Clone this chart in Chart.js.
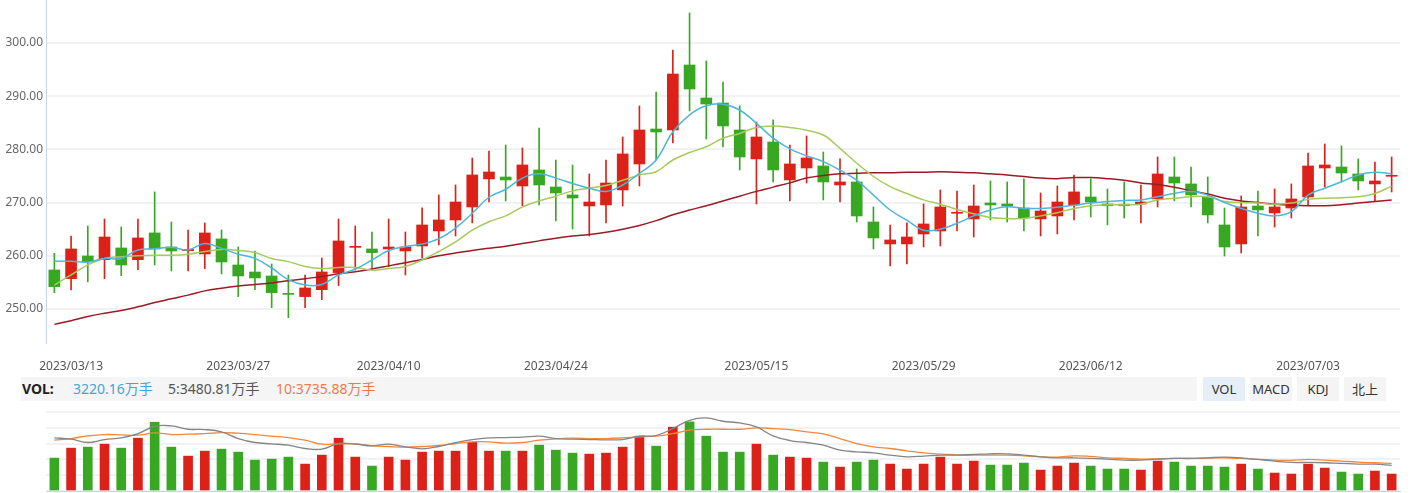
<!DOCTYPE html>
<html>
<head>
<meta charset="utf-8">
<script src="https://cdn.jsdelivr.net/npm/chart.js@4.4.1/dist/chart.umd.min.js"></script>
<style>
  html, body { margin:0; padding:0; background:#fff; width:1414px; height:493px; overflow:hidden; font-family:"Noto Sans","Noto Sans CJK SC",sans-serif; }
  #pwrap { position:absolute; left:0; top:0; width:1414px; height:375px; }
  #vwrap { position:absolute; left:0; top:404px; width:1414px; height:89px; }
  #band { position:absolute; left:21px; top:377px; width:1176px; height:24px; background:#f5f5f5; }
  .lg { position:absolute; top:377px; height:24px; line-height:24px; font-size:14px; white-space:nowrap; }
  .btn { position:absolute; top:377px; width:42px; height:24px; line-height:24px; text-align:center; font-size:13px; color:#333; background:#f4f4f4; }
</style>
</head>
<body>
<div id="pwrap"><canvas id="price" width="1414" height="375"></canvas></div>
<div id="band"></div>
<div class="lg" style="left:22px;color:#222;font-weight:bold;">VOL:</div>
<div class="lg" id="lgv" style="left:73px;color:#3ea6d6;"></div>
<div class="lg" id="lg5" style="left:168px;color:#555;"></div>
<div class="lg" id="lg10" style="left:276px;color:#ef7a4a;"></div>
<div class="btn" style="left:1203px;background:#e6eef8;">VOL</div>
<div class="btn" style="left:1250px;">MACD</div>
<div class="btn" style="left:1297px;">KDJ</div>
<div class="btn" style="left:1344px;">北上</div>
<div id="vwrap"><canvas id="vol" width="1414" height="89"></canvas></div>
<script>
// ---------- data ----------
const dates = [
 "2023/03/10","2023/03/13","2023/03/14","2023/03/15","2023/03/16","2023/03/17","2023/03/20","2023/03/21","2023/03/22","2023/03/23",
 "2023/03/24","2023/03/27","2023/03/28","2023/03/29","2023/03/30","2023/03/31","2023/04/03","2023/04/04","2023/04/06","2023/04/07",
 "2023/04/10","2023/04/11","2023/04/12","2023/04/13","2023/04/14","2023/04/17","2023/04/18","2023/04/19","2023/04/20","2023/04/21",
 "2023/04/24","2023/04/25","2023/04/26","2023/04/27","2023/04/28","2023/05/04","2023/05/05","2023/05/08","2023/05/09","2023/05/10",
 "2023/05/11","2023/05/12","2023/05/15","2023/05/16","2023/05/17","2023/05/18","2023/05/19","2023/05/22","2023/05/23","2023/05/24",
 "2023/05/25","2023/05/26","2023/05/29","2023/05/30","2023/05/31","2023/06/01","2023/06/02","2023/06/05","2023/06/06","2023/06/07",
 "2023/06/08","2023/06/09","2023/06/12","2023/06/13","2023/06/14","2023/06/15","2023/06/16","2023/06/19","2023/06/20","2023/06/21",
 "2023/06/26","2023/06/27","2023/06/28","2023/06/29","2023/06/30","2023/07/03","2023/07/04","2023/07/05","2023/07/06","2023/07/07",
 "2023/07/10"];
const tickDates = ["2023/03/13","2023/03/27","2023/04/10","2023/04/24","2023/05/15","2023/05/29","2023/06/12","2023/07/03"];
const priceTicks = [250, 260, 270, 280, 290, 300];

const opens = [257.33,255.70,259.96,259.27,261.47,259.27,264.29,261.65,260.95,260.34,
 263.16,258.27,256.95,256.20,252.82,252.32,253.63,256.83,261.58,261.28,
 261.28,260.90,261.84,264.66,266.73,269.17,274.44,274.81,273.12,276.13,
 272.93,271.43,269.36,269.55,272.37,277.26,283.83,283.65,295.86,289.66,
 288.72,283.65,278.20,281.39,274.25,276.50,276.88,273.31,273.87,266.35,
 262.22,262.22,264.10,264.66,267.98,266.92,269.92,269.74,268.98,266.92,
 267.48,269.55,271.05,269.74,269.70,269.74,270.68,274.81,273.50,271.05,
 265.79,262.22,269.36,268.05,268.98,271.05,276.50,276.69,275.38,273.50,
 274.94];
const closes = [254.20,261.28,258.90,263.53,258.27,263.35,261.28,260.90,261.20,264.29,
 258.83,256.20,255.83,253.07,252.74,253.95,256.95,262.78,261.70,260.59,
 261.65,261.65,265.79,266.73,270.11,275.19,275.75,274.25,277.07,273.31,
 271.80,270.86,270.11,273.68,279.14,283.65,283.27,294.17,291.35,288.53,
 284.40,278.57,282.33,276.13,277.26,278.38,273.87,273.87,267.48,263.35,
 262.97,263.53,265.98,269.17,268.10,269.36,269.55,269.36,267.11,268.42,
 270.11,272.00,270.11,269.40,269.40,270.11,275.38,273.68,271.43,267.67,
 261.65,269.17,268.61,269.17,270.68,276.88,277.07,275.56,274.06,274.06,
 275.06];
const highs = [260.46,263.72,265.60,266.90,265.41,266.90,272.00,266.35,264.85,266.17,
 264.85,261.65,260.90,258.46,256.39,256.39,259.59,266.90,265.60,264.47,
 266.90,264.47,268.99,271.43,273.31,278.38,279.70,280.83,280.26,284.02,
 278.00,277.07,275.38,278.00,282.33,288.16,290.79,298.68,305.64,296.62,
 292.67,288.16,285.15,285.53,280.83,282.52,279.51,278.20,276.32,269.17,
 265.79,266.17,269.74,272.37,272.18,273.31,274.06,273.87,274.44,271.80,
 273.12,275.19,274.44,272.56,273.87,273.31,278.57,278.57,276.69,274.81,
 268.98,271.24,272.18,272.56,273.50,279.32,281.02,280.64,278.20,277.63,
 278.57];
const lows = [253.07,253.57,255.10,255.70,256.27,257.40,258.27,257.14,257.14,257.58,
 256.58,252.32,253.63,250.25,248.37,250.25,251.75,254.39,257.33,257.33,
 257.96,256.39,259.59,262.03,263.72,266.17,270.11,270.30,269.36,269.55,
 266.54,265.04,263.72,266.17,269.36,273.12,278.00,281.20,287.22,281.95,
 280.45,276.13,269.74,273.87,270.30,273.68,270.49,270.11,266.35,261.28,
 258.08,258.46,261.65,261.84,264.66,263.53,266.73,266.35,264.66,263.72,
 264.10,266.73,267.29,265.79,267.10,266.17,269.17,270.30,269.17,266.17,
 259.96,260.53,263.72,265.41,267.10,269.55,272.93,273.87,272.37,270.30,
 271.99];
const ma5 = [259.0,258.95,258.8,259.5,259.5,261.1,261.3,261.6,261.1,262.3,
 261.4,260.3,259.5,257.7,255.5,254.5,254.6,256.4,257.5,259.2,
 261.0,261.7,262.2,263.2,265.2,268.0,271.0,272.5,274.6,275.4,
 274.6,273.6,272.7,272.1,273.3,275.5,278.0,283.3,286.5,288.2,
 288.5,287.4,284.9,282.1,280.1,278.8,277.7,276.1,274.2,271.4,
 268.6,266.7,264.8,265.0,266.1,267.5,268.6,269.2,268.9,268.9,
 269.1,269.5,269.9,270.2,270.4,270.5,271.1,271.7,272.1,271.4,
 270.0,268.9,268.0,267.5,268.3,271.4,272.7,273.9,275.2,275.7,
 275.4];
const ma10 = [254.5,256.4,258.3,259.5,259.8,260.0,260.1,260.1,260.3,260.8,
 261.2,261.0,260.6,259.5,258.9,258.0,257.6,257.8,257.8,257.3,
 257.6,258.0,259.2,260.8,262.6,264.8,266.4,267.5,269.2,270.3,
 271.2,272.2,272.7,273.2,274.2,275.2,275.8,278.0,279.4,280.5,
 282.1,283.0,284.1,284.4,284.1,283.6,282.7,280.2,277.4,274.9,
 273.0,271.7,270.5,269.7,268.7,267.9,267.2,267.0,267.0,267.5,
 268.1,268.9,269.4,269.6,269.6,269.7,270.5,270.8,271.1,271.1,
 270.2,270.0,269.9,269.7,269.9,270.6,270.8,270.9,271.1,271.7,
 273.1];
const maLong = [247.1,247.8,248.6,249.2,249.7,250.4,251.2,251.9,252.6,253.4,
 253.9,254.3,254.6,254.9,255.3,255.7,256.1,256.6,257.0,257.5,
 258.1,258.7,259.3,260.0,260.5,261.0,261.4,261.8,262.3,262.8,
 263.3,263.7,264.0,264.4,265.0,265.7,266.6,267.7,268.6,269.4,
 270.3,271.2,272.1,272.9,273.7,274.6,275.1,275.4,275.5,275.6,
 275.6,275.7,275.7,275.8,275.7,275.6,275.4,275.2,274.9,274.6,
 274.5,274.7,274.7,274.5,274.2,273.7,273.4,272.9,272.2,271.6,
 270.8,270.3,270.0,269.7,269.5,269.4,269.4,269.6,269.9,270.2,
 270.5];
// volume in 万手
const volumes = [6247,8140,8329,8897,8140,10033,13062,8329,6626,7572,
 7951,7383,5868,6058,6436,5111,6815,10033,6436,4733,
 6436,5868,7383,7572,7572,9276,7572,7572,7572,8708,
 7761,7193,7004,7193,8329,10412,8519,12115,13125,10412,
 7383,7383,8897,6815,6436,6247,5490,4543,5490,5868,
 5111,4165,5111,6436,5111,5679,4922,4922,5300,3975,
 4733,5300,4733,4165,4165,3975,5679,5490,4733,4733,
 4543,5111,4165,3407,3218,5111,4354,3597,3218,3786,
 3220.16];
const volMa5 = [7200,7020,6570,6975,7200,7785,8775,8820,8370,8325,
 8010,7110,6570,6390,6210,5760,5670,6435,6345,6120,
 6345,5985,5715,6030,6570,6975,7200,7245,7290,7425,
 7110,7020,6975,6930,6975,7425,7515,8460,9585,9900,
 9450,9225,8685,7470,6840,6570,6210,5535,5310,5175,
 4860,4635,4725,4860,4860,4950,5040,5040,4860,4635,
 4500,4500,4410,4320,4185,4185,4320,4410,4410,4500,
 4590,4500,4275,4050,3870,3870,3825,3735,3645,3645,
 3480.81];
const volMa10 = [6885,7110,7470,7650,7605,7560,7875,7650,7695,7785,
 7920,7830,7650,7425,7245,6885,6345,6390,6390,6120,
 6030,5940,6030,6165,6435,6660,6660,6480,6570,6885,
 7065,7155,7110,7110,7200,7335,7425,7785,8235,8370,
 8370,8370,8550,8460,8325,8010,7740,7110,6435,5985,
 5760,5445,5175,4995,4905,4860,4860,4860,4770,4635,
 4590,4770,4680,4500,4410,4320,4365,4410,4410,4455,
 4500,4410,4275,4185,4140,4275,4185,4050,3915,3825,
 3735.88];

// ---------- helpers ----------
const UP = '#dc2218', DOWN = '#38a823';
const FONT = '"Noto Sans","Noto Sans CJK SC",sans-serif';
const candleColors = opens.map((o, i) => closes[i] >= o ? UP : DOWN);
const n = dates.length;

document.getElementById('lgv').textContent = volumes[n-1].toFixed(2) + '万手';
document.getElementById('lg5').textContent = '5:' + volMa5[n-1].toFixed(2) + '万手';
document.getElementById('lg10').textContent = '10:' + volMa10[n-1].toFixed(2) + '万手';

const common = { responsive:false, animation:false, events:[],
  plugins:{ legend:{display:false}, tooltip:{enabled:false} } };

new Chart(document.getElementById('price'), {
  type: 'bar',
  data: {
    labels: dates,
    datasets: [
      { type:'line', data: ma5, borderColor:'#4db6da', borderWidth:1.5, pointRadius:0, tension:0.4, order:0 },
      { type:'line', data: ma10, borderColor:'#a6ca5e', borderWidth:1.5, pointRadius:0, tension:0.4, order:0 },
      { type:'line', data: maLong, borderColor:'#9c1a24', borderWidth:1.5, pointRadius:0, tension:0.4, order:0 },
      { data: lows.map((l, i) => [l, highs[i]]), backgroundColor: candleColors, barThickness:1, grouped:false, order:2 },
      { data: opens.map((o, i) => [o, closes[i]]), backgroundColor: candleColors, barThickness:11, minBarLength:1, grouped:false, order:1 }
    ]
  },
  options: Object.assign({}, common, {
    layout:{ padding:{ left:0, right:14, top:0, bottom:0 } },
    scales:{
      x:{
        grid:{ display:false, drawTicks:false }, border:{ display:false },
        ticks:{ autoSkip:false, maxRotation:0, minRotation:0, padding:16, color:'#555',
          font:{ size:12, family:FONT },
          callback:(v, i) => tickDates.includes(dates[i]) ? dates[i] : '' },
        afterFit:(s) => { s.height = 32; s.paddingLeft = 0; s.paddingRight = 0; }
      },
      y:{
        min:243.6, max:308.08,
        afterBuildTicks:(s) => { s.ticks = priceTicks.map(v => ({ value:v })); },
        ticks:{ padding:3, color:'#666', font:{ size:12, family:FONT }, callback:(v) => Number(v).toFixed(2) },
        grid:{ color:'#f1f2f5', lineWidth:2, drawTicks:false },
        border:{ display:true, color:'#c6d6ee', width:1 },
        afterFit:(s) => { s.width = 46; s.paddingTop = 0; s.paddingBottom = 0; }
      }
    }
  })
});

new Chart(document.getElementById('vol'), {
  type: 'bar',
  data: {
    labels: dates,
    datasets: [
      { type:'line', data: volMa5, yAxisID:'y2', borderColor:'#858585', borderWidth:1.3, pointRadius:0, tension:0.4, order:0 },
      { type:'line', data: volMa10, yAxisID:'y2', borderColor:'#f0883c', borderWidth:1.3, pointRadius:0, tension:0.4, order:0 },
      { data: volumes, backgroundColor: candleColors, barThickness:9, order:1 }
    ]
  },
  options: Object.assign({}, common, {
    layout:{ padding:{ left:0, right:14, top:8, bottom:0 } },
    scales:{
      x:{
        grid:{ display:false, drawTicks:false }, ticks:{ display:false },
        border:{ display:true, color:'#c6d6ee', width:1 },
        afterFit:(s) => { s.height = 2; s.paddingLeft = 0; s.paddingRight = 0; }
      },
      y:{
        min:0, max:15000,
        ticks:{ display:false, stepSize:3000 },
        grid:{ color:'#f1f2f5', lineWidth:2, drawTicks:false },
        border:{ display:false },
        afterFit:(s) => { s.width = 46; s.paddingTop = 0; s.paddingBottom = 0; }
      },
      y2:{ display:false, min:0, max:10705 }
    }
  })
});
</script>
</body>
</html>
